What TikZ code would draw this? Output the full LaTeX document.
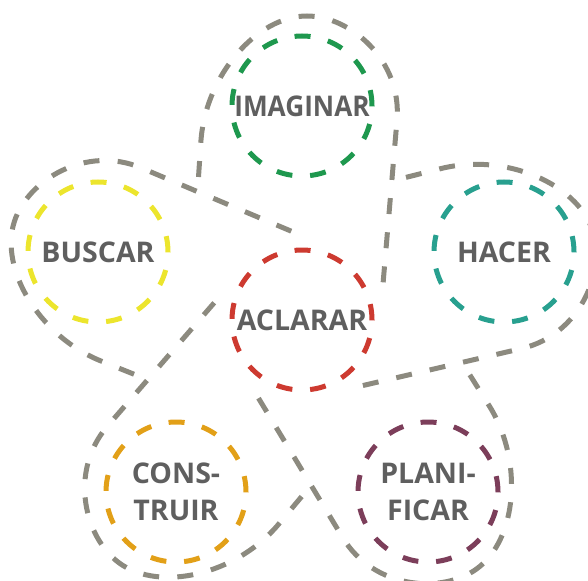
\documentclass[tikz,border=0pt]{standalone}
\usepackage{fontspec}
\setmainfont{Open Sans}
\definecolor{petalgray}{RGB}{140,138,127}
\definecolor{txtgray}{RGB}{95,95,95}
\definecolor{cgreen}{RGB}{30,152,78}
\definecolor{cteal}{RGB}{40,160,143}
\definecolor{cyellow}{RGB}{236,229,45}
\definecolor{cred}{RGB}{205,58,48}
\definecolor{corange}{RGB}{226,160,24}
\definecolor{cpurple}{RGB}{124,62,90}
\begin{document}
\begin{tikzpicture}[x=1pt,y=-1pt,
  petalline/.style={draw=petalgray, line width=5pt, dash pattern=on 16pt off 18.27pt},
  ring/.style={circle, minimum size=140pt, inner sep=0pt, line width=5pt,
    dash pattern=on 16pt off 17.8pt, text=txtgray,
    font=\fontsize{28.5}{37}\selectfont\bfseries, align=center}]
\useasboundingbox (0,0) rectangle (588,580);
\clip (0,0) rectangle (588,580);
\coordinate (O) at (302,320);
\foreach \a in {0,72,144,216,288}{
  \draw[petalline, rotate around={\a:(O)}]
    (198.5,177) -- (201,140) .. controls (206,75) and (257,16) .. (307,16)
    .. controls (350,16) and (402,60) .. (397,120) -- (383,284);
}
\node[ring, draw=cred]    (aclarar)   at (302,320) {ACLARAR};
\node[ring, draw=cgreen]  (imaginar)  at (302,106) {\scalebox{0.92}[1]{IMAGINAR}};
\node[ring, draw=cteal]   (hacer)     at (504,252) {HACER};
\node[ring, draw=cyellow] (buscar)    at (98,252)  {BUSCAR};
\node[ring, draw=corange] (construir) at (176,492) {CONS-\\TRUIR};
\node[ring, draw=cpurple] (planificar) at (428,492) {PLANI-\\FICAR};
\end{tikzpicture}
\end{document}
